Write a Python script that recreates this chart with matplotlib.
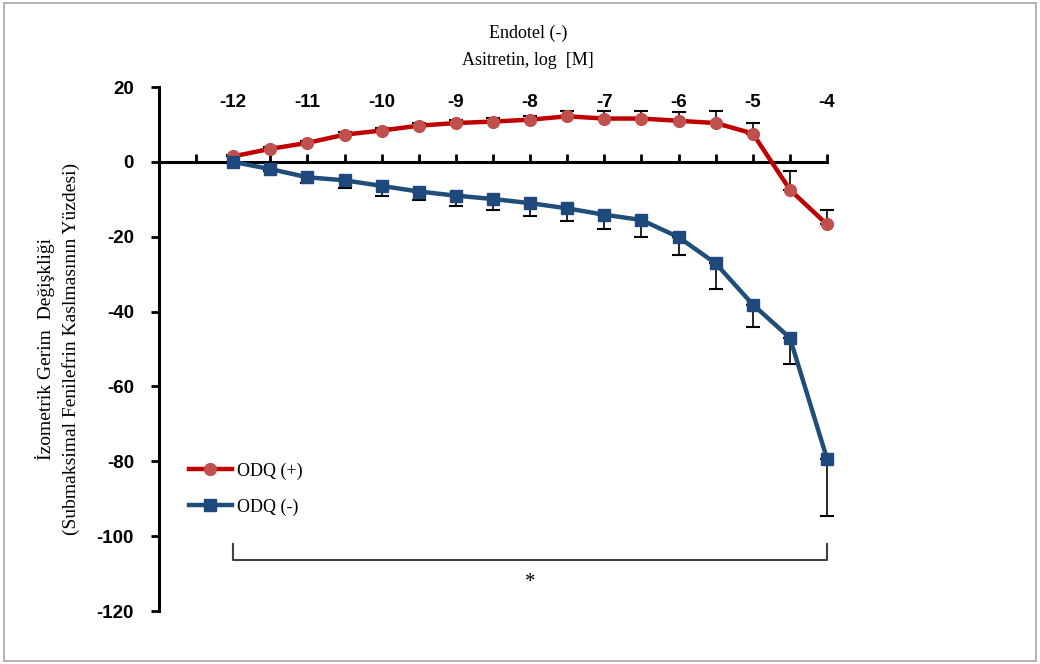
import matplotlib
matplotlib.use("Agg")
import matplotlib.pyplot as plt
from matplotlib.patches import Rectangle

# Data
log_conc = [-12, -11.5, -11, -10.5, -10, -9.5, -9, -8.5, -8, -7.5, -7, -6.5, -6, -5.5, -5, -4.5, -4]
odq_plus = [1.5, 3.5, 5.1, 7.3, 8.4, 9.7, 10.4, 10.8, 11.3, 12.2, 11.6, 11.6, 11.0, 10.4, 7.6, -7.4, -16.7]
odq_plus_err = [0.3, 0.5, 0.5, 0.6, 0.6, 0.8, 0.8, 1.0, 1.0, 1.4, 1.9, 2.0, 2.4, 3.1, 2.8, 4.9, 3.8]
odq_minus = [0.0, -1.9, -4.1, -4.9, -6.4, -7.9, -9.0, -9.9, -11.0, -12.4, -14.1, -15.5, -20.1, -27.1, -38.1, -47.0, -79.3]
odq_minus_err = [0.0, 0.5, 1.5, 2.0, 2.6, 2.3, 2.9, 2.9, 3.4, 3.3, 3.8, 4.5, 4.7, 6.9, 5.9, 7.0, 15.4]
x_labels = [-12, -11, -10, -9, -8, -7, -6, -5, -4]
y_ticks = [20, 0, -20, -40, -60, -80, -100, -120]
series_names = ["ODQ (+)", "ODQ (-)"]

red_line = "#C00000"
red_mark = "#C0504D"
blue_line = "#1F4E79"
blue_mark = "#1F497D"

serif = ["Liberation Serif", "DejaVu Serif"]
sans = ["Liberation Sans", "DejaVu Sans"]

fig = plt.figure(figsize=(10.4, 6.64), dpi=100)
fig.patches.append(Rectangle((0.004, 0.004), 0.992, 0.992, transform=fig.transFigure,
                             fill=False, edgecolor="#A6A6A6", linewidth=1.2))
ax = fig.add_axes([0.1529, 0.0798, 0.6423, 0.789])

zeros = [0] * len(log_conc)
eb1 = ax.errorbar(log_conc, odq_plus, yerr=[zeros, odq_plus_err], fmt="none",
                  ecolor="black", elinewidth=1.2, capsize=5, capthick=1.5, zorder=2)
eb2 = ax.errorbar(log_conc, odq_minus, yerr=[odq_minus_err, zeros], fmt="none",
                  ecolor="black", elinewidth=1.2, capsize=5, capthick=1.5, zorder=2)
for eb in (eb1, eb2):
    for art in eb.lines[1] + eb.lines[2]:
        art.set_clip_on(False)
ax.plot(log_conc, odq_plus, color=red_line, linewidth=3.2, marker="o", markersize=8.5,
        markerfacecolor=red_mark, markeredgecolor=red_mark, label=series_names[0], zorder=3,
        clip_on=False)
ax.plot(log_conc, odq_minus, color=blue_line, linewidth=3.2, marker="s", markersize=8.5,
        markerfacecolor=blue_mark, markeredgecolor=blue_mark, label=series_names[1], zorder=3,
        clip_on=False)

ax.set_xlim(-13, -4)
ax.set_ylim(-120, 20)

ax.spines["top"].set_visible(False)
ax.spines["right"].set_visible(False)
ax.spines["bottom"].set_position(("data", 0))
ax.spines["left"].set_linewidth(2.2)
ax.spines["bottom"].set_linewidth(2.2)

ax.set_xticks([-13 + 0.5 * i for i in range(19)])
ax.tick_params(axis="x", direction="in", length=6, width=2, labelbottom=False)
ax.set_yticks(y_ticks)
ax.set_yticklabels([str(v) for v in y_ticks], fontsize=13.5, fontweight="bold", family=sans)
ax.tick_params(axis="y", direction="out", length=6, width=2, pad=12)

for v in x_labels:
    ax.text(v, 15.8, str(v), ha="center", va="center", fontsize=13.5,
            fontweight="bold", family=sans)

# significance bracket
ax.plot([-12, -12, -4, -4], [-102, -106.3, -106.3, -102], color="#404040", linewidth=1.5,
        clip_on=False)
ax.text(-8, -112.5, "*", ha="center", va="center", fontsize=15, family=serif)

fig.text(0.508, 0.950, "Endotel (-)", ha="center", va="center", fontsize=13, family=serif)
fig.text(0.508, 0.909, "Asitretin, log  [M]", ha="center", va="center", fontsize=13, family=serif)

ax.set_ylabel("İzometrik Gerim  Değişkliği\n(Submaksimal Fenilefrin Kaslmasının Yüzdesi)",
              fontsize=14, family=serif, labelpad=12, linespacing=1.5)

leg = ax.legend(loc="upper left", bbox_to_anchor=(0.02, 0.315), frameon=False,
                prop={"family": serif, "size": 13}, handlelength=2.4,
                handletextpad=0.3, labelspacing=1.05)

fig.savefig("out.png", dpi=100)
